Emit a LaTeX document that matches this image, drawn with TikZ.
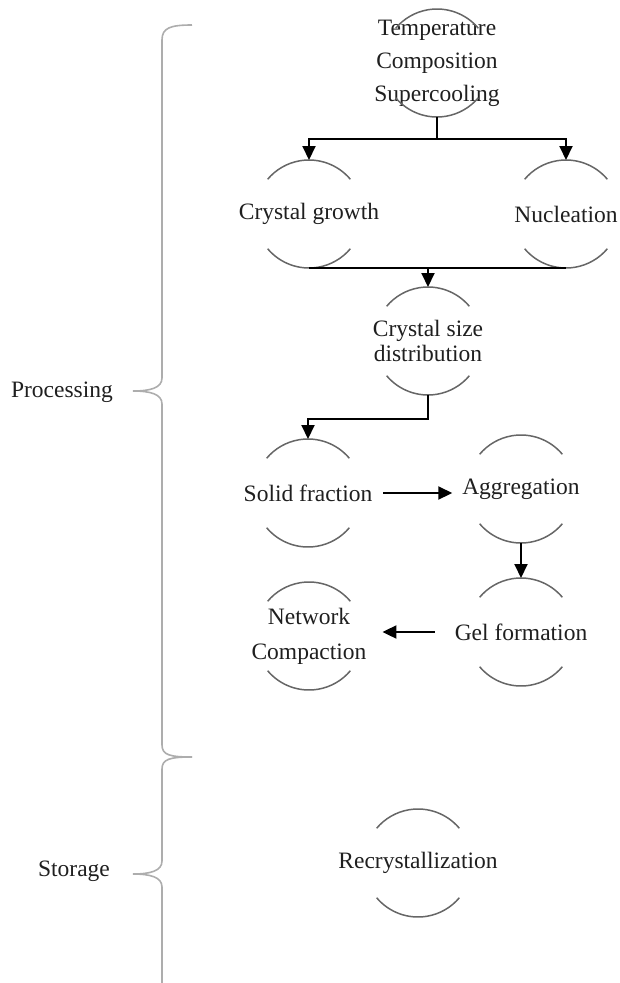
\documentclass[tikz,border=0pt]{standalone}
\usepackage{fontspec}
\setmainfont{Liberation Serif}
\usetikzlibrary{arrows.meta}
\tikzset{
  lbl/.style={font=\fontsize{23.5}{33}\selectfont, align=center, inner sep=5pt, outer sep=0pt, text=black!88},
  arcline/.style={draw=black!60, line width=1.5pt},
  conn/.style={draw=black, line width=2pt},
  arr/.style={conn, -{Triangle[length=14pt,width=13pt]}},
  bracel/.style={draw=black!32, line width=1.6pt},
}
\newcommand\arcpair[1]{%
  \draw[arcline] ([shift={(40:54pt)}]#1.center) arc[start angle=40,end angle=140,radius=54pt];
  \draw[arcline] ([shift={(220:54pt)}]#1.center) arc[start angle=220,end angle=320,radius=54pt];
  \coordinate (#1-t) at ([yshift=54pt]#1.center);
  \coordinate (#1-b) at ([yshift=-54pt]#1.center);
}
\begin{document}
\begin{tikzpicture}[x=1pt,y=-1pt]
\useasboundingbox (0,0) rectangle (620,983);
% nodes
\node[lbl] (tcs) at (437,63) {Temperature\\Composition\\Supercooling};
\node[lbl] (cg) at (309,214) {Crystal growth};
\node[lbl] (nuc) at (566,214) {Nucleation};
\node[lbl, font=\fontsize{23.5}{25}\selectfont] (csd) at (428,341) {Crystal size\\distribution};
\node[lbl] (sf) at (308,493) {Solid fraction};
\node[lbl] (agg) at (521,489) {Aggregation};
\node[lbl] (gel) at (521,632) {Gel formation};
\node[lbl, font=\fontsize{23.5}{35}\selectfont] (nc) at (309,636) {Network\\Compaction};
\node[lbl] (rec) at (418,863) {Recrystallization};
\node[lbl] (proc) at (62,392) {Processing};
\node[lbl] (stor) at (74,871) {Storage};
% arcs
\arcpair{tcs}
\arcpair{cg}
\arcpair{nuc}
\arcpair{csd}
\arcpair{sf}
\arcpair{agg}
\arcpair{gel}
\arcpair{nc}
\arcpair{rec}
% connectors
\coordinate (j1) at (437,139);
\draw[conn] (tcs-b) -- (j1);
\draw[arr] (j1) -| (cg-t);
\draw[arr] (j1) -| (nuc-t);
\draw[conn] (cg-b) -- (nuc-b);
\draw[arr] (csd-t |- cg-b) -- (csd-t);
\draw[arr] (csd-b) -- ++(0,24) -| (sf-t);
\draw[arr, shorten <=6pt, shorten >=5pt] (sf.east) -- (sf.east -| agg.west);
\draw[arr] (agg-b) -- (gel-t);
\draw[arr, shorten <=15pt, shorten >=11pt] (gel.west) -- (gel.west -| nc.east);
% braces
\coordinate (pb) at (133,391);
\coordinate (sb) at (133,874);
\draw[bracel] (192,25) .. controls (170,25) and (162,28) .. (162,40) -- (162,378)
  .. controls (162,388) and (150,391) .. (pb)
  .. controls (150,391) and (162,394) .. (162,404) -- (162,745)
  .. controls (162,755) and (170,757) .. (192,757);
\draw[bracel] (192,757) .. controls (170,757) and (162,759) .. (162,769) -- (162,861)
  .. controls (162,871) and (150,874) .. (sb)
  .. controls (150,874) and (162,877) .. (162,887) -- (162,983);
\end{tikzpicture}
\end{document}
